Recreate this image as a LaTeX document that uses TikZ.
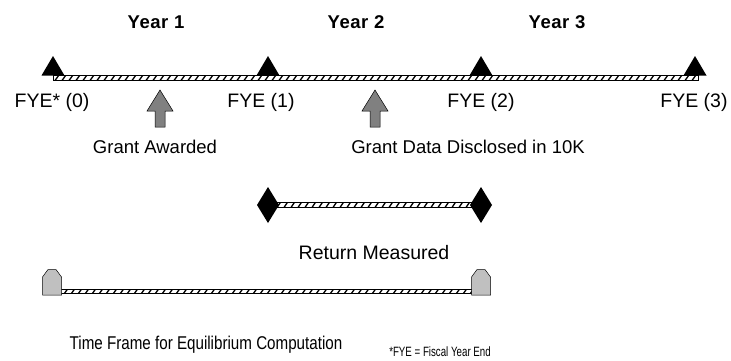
\documentclass[tikz,border=0pt]{standalone}
\usepackage{fontspec}
\setmainfont{Liberation Sans}
\newfontfamily\yearfont[LetterSpace=3]{Liberation Sans}
\newfontfamily\notefont[FakeStretch=0.72]{Liberation Sans}
\newfontfamily\framefont[FakeStretch=0.82]{Liberation Sans}
\definecolor{arrowgray}{HTML}{808080}
\definecolor{capgray}{HTML}{C0C0C0}
\begin{document}
\begin{tikzpicture}[x=1pt,y=-1pt,
  lbl/.style={font=\fontsize{19.5}{22}\selectfont, inner sep=0pt},
  grantlbl/.style={font=\fontsize{18.5}{22}\selectfont, inner sep=0pt},
  framelbl/.style={font=\fontsize{18.5}{22}\selectfont\framefont, inner sep=0pt},
  yearlbl/.style={font=\fontsize{18.5}{22}\selectfont\yearfont\bfseries, inner sep=0pt},
  notelbl/.style={font=\fontsize{13.5}{16}\selectfont\notefont, inner sep=0pt},
  barbox/.style={draw=black, fill=white, line width=0.7pt},
  hatch/.style={line width=1.3pt},
  tri/.style={fill=black},
  upar/.style={draw=black, fill=arrowgray, line width=0.5pt},
  capbox/.style={draw=black, fill=capgray, line width=0.5pt},
]
\useasboundingbox (0,0) rectangle (731,360);

% ---- Year labels
\node[yearlbl] (y1) at (156,22) {Year 1};
\node[yearlbl] (y2) at (356,22) {Year 2};
\node[yearlbl] (y3) at (557,22) {Year 3};

% ---- main bar
\coordinate (m0) at (53,75.5);
\coordinate (m3) at (698,80);
\draw[barbox] (m0) rectangle (m3);
\begin{scope}
  \clip (53,75.5) rectangle (698,80);
  \foreach \x in {55,62,...,700} \draw[hatch] (\x,80.5) -- (\x+4,75);
\end{scope}
\draw[barbox, fill=none] (m0) rectangle (m3);

% triangles
\foreach \x/\n in {53/t0,268/t1,481/t2,695/t3}{
  \coordinate (\n) at (\x,75.5);
  \fill[tri] (\x-11.5,75.5) -- (\x,56) -- (\x+11.5,75.5) -- cycle;
}

% FYE labels
\node[lbl] (f0) at (52,102) {FYE* (0)};
\node[lbl] (f1) at (261,102) {FYE (1)};
\node[lbl] (f2) at (481,102) {FYE (2)};
\node[lbl] (f3) at (694,102) {FYE (3)};

% gray arrows
\foreach \x in {160,375}{
  \draw[upar] (\x,90) -- (\x+13,111) -- (\x+5,111) -- (\x+5,127)
     -- (\x-5,127) -- (\x-5,111) -- (\x-13,111) -- cycle;
}
\node[grantlbl] (ga) at (155,147) {Grant Awarded};
\node[grantlbl] (gd) at (468,147) {Grant Data Disclosed in 10K};

% ---- return measured bar
\draw[barbox] (268,202) rectangle (481,207);
\begin{scope}
  \clip (268,202) rectangle (481,207);
  \foreach \x in {270,277,...,484} \draw[hatch] (\x,207.5) -- (\x+4,201.5);
\end{scope}
\draw[barbox, fill=none] (268,202) rectangle (481,207);
\foreach \x in {268,481}{
  \fill[black] (\x-11,205) -- (\x,187) -- (\x+11,205) -- (\x,223) -- cycle;
}
\node[lbl] (rm) at (374,253) {Return Measured};

% ---- equilibrium bar
\draw[barbox] (52,289) rectangle (481,293.5);
\begin{scope}
  \clip (52,289) rectangle (481,293.5);
  \foreach \x in {64,71,...,484} \draw[hatch] (\x,294) -- (\x+4,288.5);
\end{scope}
\draw[barbox, fill=none] (52,289) rectangle (481,293.5);
\foreach \x in {52,481}{
  \draw[capbox] (\x-9.5,295) -- (\x-9.5,277) -- (\x-4,269.5) -- (\x+4,269.5)
    -- (\x+9.5,277) -- (\x+9.5,295) -- cycle;
}
\node[framelbl] (tf) at (206,345) {Time Frame for Equilibrium Computation};
\node[notelbl] (nt) at (440,352) {*FYE = Fiscal Year End};
\end{tikzpicture}
\end{document}
